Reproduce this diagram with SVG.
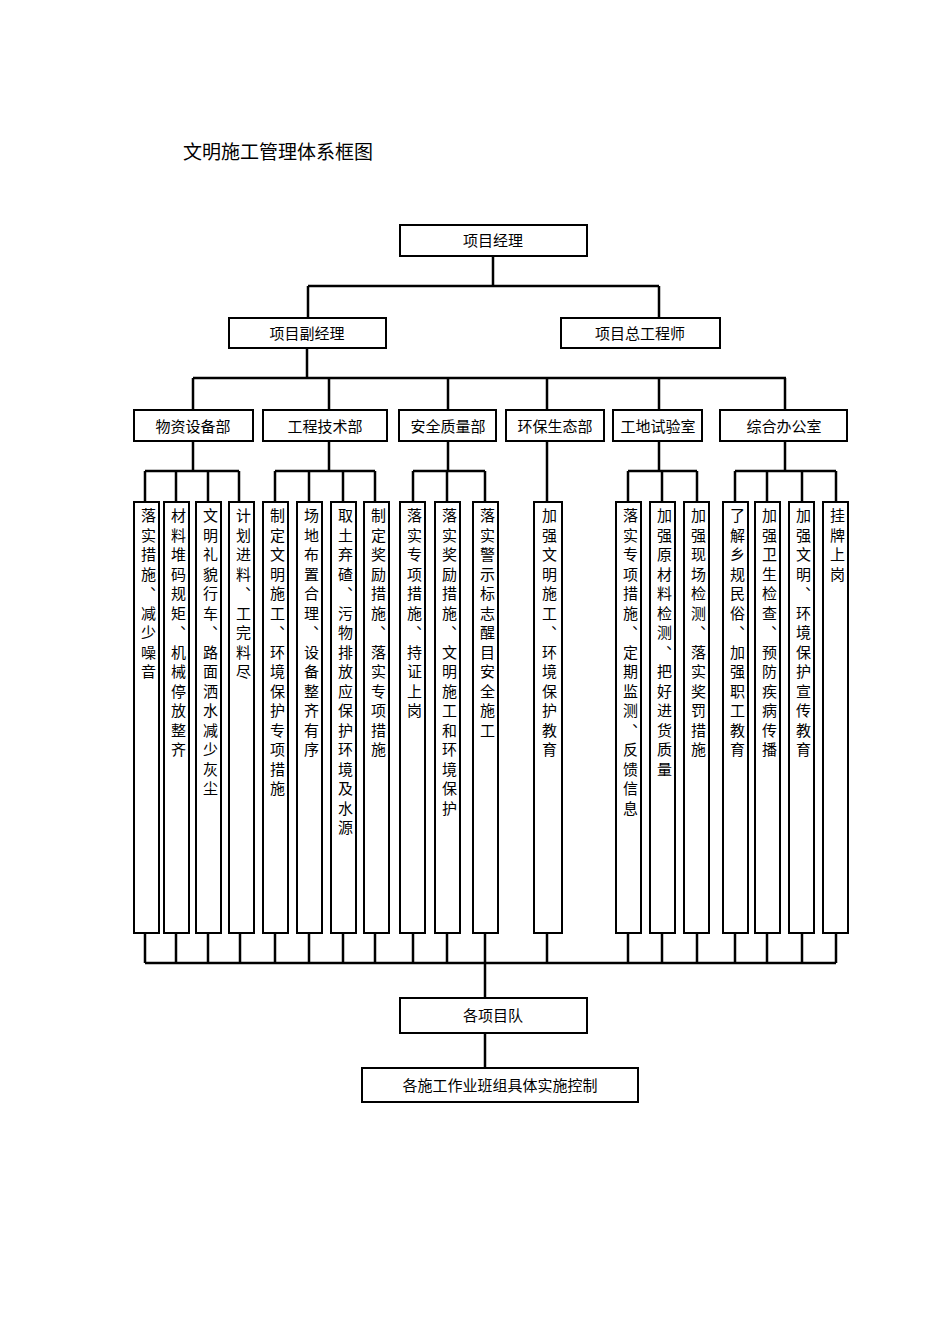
<svg xmlns="http://www.w3.org/2000/svg" width="950" height="1344" viewBox="0 0 950 1344">
<style>
text{font-family:"Liberation Serif","Noto Sans CJK SC",serif;fill:#000}
.b{fill:#fff;stroke:#000;stroke-width:2}
.t{font-size:15px;text-anchor:middle}
.v{font-size:15px;writing-mode:vertical-rl;text-orientation:upright;letter-spacing:4.5px}
.c path{fill:none;stroke:#000;stroke-width:2.5}
</style>
<rect width="950" height="1344" fill="#fff"/>
<text x="183" y="159" font-size="19">文明施工管理体系框图</text>
<g class="c">
<path d="M493 256V286M308 286H659M308 286V318M659 286V318M307 348V378M193 378H786M193 378V410M329 378V410M448 378V410M547 378V410M659 378V410M785 378V410"/>
<path d="M193 441V471M145 471H239M145 471V502M176 471V502M208 471V502M239 471V502"/>
<path d="M329 441V471M275 471H375M275 471V502M309 471V502M343 471V502M375 471V502"/>
<path d="M448 441V471M413 471H485M413 471V502M447 471V502M485 471V502"/>
<path d="M547 441V502"/>
<path d="M659 441V471M628 471H697M628 471V502M662 471V502M697 471V502"/>
<path d="M785 441V471M735 471H836M735 471V502M767 471V502M802 471V502M836 471V502"/>
<path d="M145 963H836M145 933V963M176 933V963M208 933V963M240 933V963M275 933V963M309 933V963M343 933V963M375 933V963M413 933V963M447 933V963M485 933V963M547 933V963M628 933V963M662 933V963M697 933V963M735 933V963M767 933V963M802 933V963M836 933V963M485 963V998M485 1033V1068"/>
</g>
<g id="n0"><rect class="b" x="400" y="225" width="187" height="31"/><text class="t" x="493" y="246">项目经理</text></g>
<g id="n1"><rect class="b" x="229" y="318" width="157" height="30"/><text class="t" x="307" y="339">项目副经理</text></g>
<g id="n2"><rect class="b" x="561" y="318" width="159" height="30"/><text class="t" x="640" y="339">项目总工程师</text></g>
<g id="d1"><rect class="b" x="134" y="410" width="119" height="31"/><text class="t" x="193" y="432">物资设备部</text></g>
<g id="d2"><rect class="b" x="263" y="410" width="124" height="31"/><text class="t" x="325" y="432">工程技术部</text></g>
<g id="d3"><rect class="b" x="399" y="410" width="97" height="31"/><text class="t" x="448" y="432">安全质量部</text></g>
<g id="d4"><rect class="b" x="506" y="410" width="98" height="31"/><text class="t" x="555" y="432">环保生态部</text></g>
<g id="d5"><rect class="b" x="613" y="410" width="89" height="31"/><text class="t" x="658" y="432">工地试验室</text></g>
<g id="d6"><rect class="b" x="720" y="410" width="127" height="31"/><text class="t" x="784" y="432">综合办公室</text></g>
<g id="c1"><rect class="b" x="134" y="502" width="25" height="431"/><text class="v" x="147" y="508">落实措施、减少噪音</text></g>
<g id="c2"><rect class="b" x="164" y="502" width="25" height="431"/><text class="v" x="177" y="508">材料堆码规矩、机械停放整齐</text></g>
<g id="c3"><rect class="b" x="196" y="502" width="25" height="431"/><text class="v" x="209" y="508">文明礼貌行车、路面洒水减少灰尘</text></g>
<g id="c4"><rect class="b" x="229" y="502" width="25" height="431"/><text class="v" x="242" y="508">计划进料、工完料尽</text></g>
<g id="c5"><rect class="b" x="263" y="502" width="25" height="431"/><text class="v" x="276" y="508">制定文明施工、环境保护专项措施</text></g>
<g id="c6"><rect class="b" x="297" y="502" width="25" height="431"/><text class="v" x="310" y="508">场地布置合理、设备整齐有序</text></g>
<g id="c7"><rect class="b" x="331" y="502" width="25" height="431"/><text class="v" x="344" y="508">取土弃碴、污物排放应保护环境及水源</text></g>
<g id="c8"><rect class="b" x="364" y="502" width="25" height="431"/><text class="v" x="377" y="508">制定奖励措施、落实专项措施</text></g>
<g id="c9"><rect class="b" x="400" y="502" width="25" height="431"/><text class="v" x="413" y="508">落实专项措施、持证上岗</text></g>
<g id="c10"><rect class="b" x="435" y="502" width="25" height="431"/><text class="v" x="448" y="508">落实奖励措施、文明施工和环境保护</text></g>
<g id="c11"><rect class="b" x="473" y="502" width="25" height="431"/><text class="v" x="486" y="508">落实警示标志醒目安全施工</text></g>
<g id="c12"><rect class="b" x="534" y="502" width="28" height="431"/><text class="v" x="548" y="508">加强文明施工、环境保护教育</text></g>
<g id="c13"><rect class="b" x="616" y="502" width="25" height="431"/><text class="v" x="629" y="508">落实专项措施、定期监测、反馈信息</text></g>
<g id="c14"><rect class="b" x="650" y="502" width="25" height="431"/><text class="v" x="663" y="508">加强原材料检测、把好进货质量</text></g>
<g id="c15"><rect class="b" x="684" y="502" width="25" height="431"/><text class="v" x="697" y="508">加强现场检测、落实奖罚措施</text></g>
<g id="c16"><rect class="b" x="723" y="502" width="25" height="431"/><text class="v" x="736" y="508">了解乡规民俗、加强职工教育</text></g>
<g id="c17"><rect class="b" x="755" y="502" width="25" height="431"/><text class="v" x="768" y="508">加强卫生检查、预防疾病传播</text></g>
<g id="c18"><rect class="b" x="789" y="502" width="25" height="431"/><text class="v" x="802" y="508">加强文明、环境保护宣传教育</text></g>
<g id="c19"><rect class="b" x="823" y="502" width="25" height="431"/><text class="v" x="836" y="508">挂牌上岗</text></g>
<g id="n3"><rect class="b" x="400" y="998" width="187" height="35"/><text class="t" x="493" y="1021">各项目队</text></g>
<g id="n4"><rect class="b" x="362" y="1068" width="276" height="34"/><text class="t" x="500" y="1091">各施工作业班组具体实施控制</text></g>
</svg>
